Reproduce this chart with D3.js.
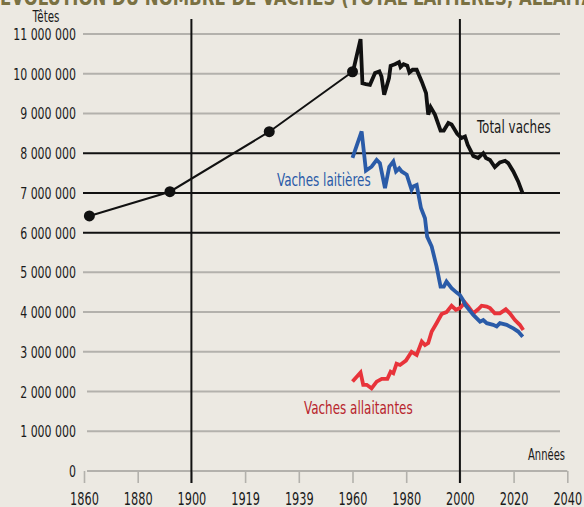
<!DOCTYPE html>
<html><head><meta charset="utf-8">
<script src="https://cdn.jsdelivr.net/npm/d3@7"></script>
<style>
html,body{margin:0;padding:0;background:#ece9e2;}
svg{display:block;}
text{font-family:"DejaVu Sans Condensed","DejaVu Sans",sans-serif;}
</style></head><body>
<svg id="c" width="584" height="507"></svg>
<script>
// ---- data ----
const histYears = [1862, 1892, 1929, 1960];
const histValues = [6420000, 7030000, 8540000, 10050000];

const totalYears = [1960,1963,1963.7,1965,1966.5,1968.4,1970,1970.8,1971.8,1973.6,1974.2,1975.8,1977.3,1977.9,1979,1980.4,1981.2,1982.4,1983.9,1985.8,1987.4,1988.2,1989.1,1990.7,1992.8,1994,1995.7,1996.9,1999,2000.6,2001.9,2002.9,2005,2006.8,2008.7,2009.7,2011.2,2013,2014.9,2016.8,2018,2019.9,2021.7,2023.4];
const totalValues = [10000000,10870000,9760000,9740000,9720000,10020000,10060000,9930000,9470000,9890000,10200000,10240000,10290000,10170000,10240000,10200000,10030000,10100000,10100000,9800000,9510000,8970000,9160000,8970000,8570000,8570000,8760000,8720000,8490000,8380000,8420000,8210000,7930000,7880000,8000000,7880000,7830000,7650000,7770000,7810000,7750000,7540000,7290000,6980000];

const dairyYears = [1960,1963.4,1965,1967.1,1969,1970.2,1972.1,1973.7,1975.2,1976.2,1977.4,1978.3,1980.2,1982,1982.6,1983.9,1985.5,1987,1987.8,1989.5,1991.3,1992.8,1994,1995,1996.9,1998.8,2000,2001.2,2002,2005,2007.5,2008.7,2010,2012.4,2013.7,2014.9,2017.4,2019.9,2021.7,2023.4];
const dairyValues = [7880000,8550000,7560000,7660000,7830000,7750000,7120000,7660000,7790000,7540000,7620000,7540000,7460000,7080000,7160000,7200000,6620000,6360000,5900000,5650000,5150000,4640000,4640000,4770000,4600000,4490000,4430000,4300000,4180000,3930000,3760000,3800000,3720000,3680000,3640000,3720000,3680000,3590000,3510000,3380000];

const sucklerYears = [1960,1963,1964,1965.3,1967.1,1969,1970.9,1973,1974.2,1975.2,1976.4,1977.7,1979.9,1982,1983.9,1985.8,1987,1988.2,1989.5,1991.3,1993.2,1995,1996.9,1998.5,2000,2001.9,2003.1,2005,2006.8,2008.1,2010,2011.2,2013,2014.9,2017.1,2018.6,2020.5,2022.3,2023.6];
const sucklerValues = [2250000,2480000,2170000,2170000,2080000,2250000,2320000,2320000,2500000,2460000,2700000,2670000,2780000,3000000,2920000,3260000,3170000,3220000,3510000,3720000,3950000,4000000,4160000,4060000,4100000,4240000,4140000,3970000,4070000,4160000,4140000,4100000,3970000,3970000,4070000,3970000,3800000,3680000,3550000];

const yTicks = [0,1000000,2000000,3000000,4000000,5000000,6000000,7000000,8000000,9000000,10000000,11000000];
const yTickLabels = ["0","1 000 000","2 000 000","3 000 000","4 000 000","5 000 000","6 000 000","7 000 000","8 000 000","9 000 000","10 000 000","11 000 000"];
const blackGrid = [6000000,7000000,8000000];
const xTicks = [1860,1880,1900,1920,1940,1960,1980,2000,2020,2040];
const xTickLabels = ["1860","1880","1900","1919","1939","1960","1980","2000","2020","2040"];
const refYears = [1900, 2000];

const title = "ÉVOLUTION DU NOMBRE DE VACHES (TOTAL LAITIÈRES, ALLAITANTES)";

// ---- chart ----
const svg = d3.select("#c");
const x = d3.scaleLinear().domain([1860,2040]).range([84,567.3]);
const y = d3.scaleLinear().domain([0,11000000]).range([471,34]);
const SX = 0.74;

function label(g, tx, ty, txt, size, anchor, color, weight){
  return g.append("text")
    .attr("transform",`translate(${tx},${ty}) scale(${SX},1)`)
    .attr("text-anchor",anchor||"start").attr("font-size",size)
    .attr("font-weight",weight||"normal")
    .attr("fill",color||"#1a1a1a").text(txt);
}

svg.append("text").attr("x",0).attr("y",4.5).attr("fill","#7a7143")
  .attr("font-size",21).attr("font-weight","bold")
  .attr("textLength",650).attr("lengthAdjust","spacingAndGlyphs")
  .text(title);

// grid lines
const gridG = svg.append("g");
gridG.selectAll("line").data(yTicks.filter(d=>d>0)).join("line")
  .attr("x1",d=>d<=2000000?87:83).attr("x2",560)
  .attr("y1",d=>y(d)).attr("y2",d=>y(d))
  .attr("stroke",d=>blackGrid.includes(d)?"#111":"#b3b1ac")
  .attr("stroke-width",2);

// y labels
const yl = svg.append("g");
yTicks.forEach((d,i)=>label(yl, 76, y(d)+6, yTickLabels[i], 16.5, "end"));

label(svg, 46, 21.5, "Têtes", 15.5, "middle");

// x axis
const xAxis = d3.axisBottom(x).tickValues(xTicks).tickSize(12).tickFormat((d,i)=>xTickLabels[i]);
const ax = svg.append("g").attr("transform","translate(0,471)").call(xAxis);
ax.select(".domain").remove();
ax.append("line").attr("x1",87).attr("x2",567.3).attr("stroke","#b3b1ac").attr("stroke-width",2);
ax.selectAll(".tick line").attr("stroke","#b3b1ac").attr("stroke-width",1.6);
ax.selectAll(".tick text").attr("font-size",17).attr("fill","#1a1a1a").attr("dy",0).attr("y",0)
  .attr("transform",`translate(0,33.5) scale(${SX},1)`)
  .attr("font-family",'"DejaVu Sans Condensed","DejaVu Sans",sans-serif');

label(svg, 565, 460, "Années", 15, "end");

// reference vertical lines
svg.append("g").selectAll("line").data(refYears).join("line")
  .attr("x1",d=>x(d)).attr("x2",d=>x(d)).attr("y1",19).attr("y2",483)
  .attr("stroke","#111").attr("stroke-width",2);

// historical line
const line = d3.line().x(d=>x(d[0])).y(d=>y(d[1]));
const hist = histYears.map((d,i)=>[d,histValues[i]]);
svg.append("path").datum(hist).attr("d",line).attr("fill","none").attr("stroke","#111").attr("stroke-width",2);
svg.append("g").selectAll("circle").data(hist).join("circle")
  .attr("cx",d=>x(d[0])).attr("cy",d=>y(d[1])).attr("r",5.5).attr("fill","#111");

function series(yr, vals, color){
  svg.append("path").datum(yr.map((d,i)=>[d,vals[i]])).attr("d",line)
    .attr("fill","none").attr("stroke",color).attr("stroke-width",3.8)
    .attr("stroke-linejoin","miter").attr("stroke-miterlimit",3);
}
series(sucklerYears, sucklerValues, "#e8333a");
series(dairyYears, dairyValues, "#2a5ba8");
series(totalYears, totalValues, "#111");

label(svg, 477, 132.5, "Total vaches", 18, "start", "#1a1a1a");
label(svg, 277, 185.5, "Vaches laitières", 18, "start", "#2a5ba8");
label(svg, 304, 413.5, "Vaches allaitantes", 18, "start", "#b8252d");
</script>
</body></html>
